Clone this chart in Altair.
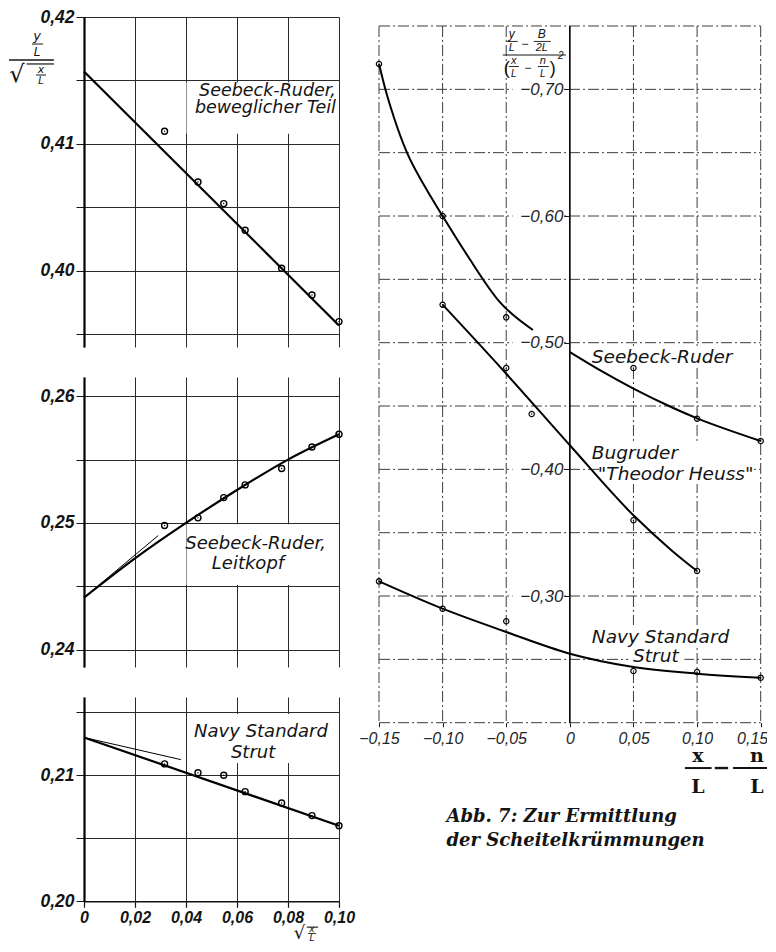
import altair as alt
import pandas as pd

# ---------------- left column: abscissa sqrt(x/L) ----------------
SQRT_XL = [0.0316, 0.0447, 0.0548, 0.0632, 0.0775, 0.0894, 0.1000]
TOP_PTS = [0.4110, 0.4070, 0.4053, 0.4032, 0.4002, 0.3981, 0.3960]
MID_PTS = [0.2498, 0.2504, 0.2520, 0.2530, 0.2543, 0.2560, 0.2570]
BOT_PTS = [0.2109, 0.2102, 0.2100, 0.2087, 0.2078, 0.2068, 0.2060]

TOP_FIT_X = [0.0, 0.10]
TOP_FIT_Y = [0.4157, 0.3957]
MID_FIT_X = [0.0, 0.02, 0.04, 0.06, 0.08, 0.10]
MID_FIT_Y = [0.2441, 0.2472, 0.2500, 0.2526, 0.2550, 0.2570]
MID_TAN_X = [0.0, 0.0291]
MID_TAN_Y = [0.2441, 0.2490]
BOT_FIT_X = [0.0, 0.10]
BOT_FIT_Y = [0.2130, 0.2060]
BOT_TAN_X = [0.0, 0.038]
BOT_TAN_Y = [0.2130, 0.21124]

LEFT_XTICKS = [0.0, 0.02, 0.04, 0.06, 0.08, 0.10]
TOP_YTICKS = [0.395, 0.40, 0.405, 0.41, 0.415, 0.42]
MID_YTICKS = [0.24, 0.245, 0.25, 0.255, 0.26]
BOT_YTICKS = [0.20, 0.205, 0.21, 0.215]

# ---------------- right panel: abscissa x/L - n/L ----------------
SEE_PX = [-0.15, -0.10, -0.05, 0.05, 0.10, 0.15]
SEE_PY = [-0.720, -0.600, -0.520, -0.480, -0.440, -0.4224]
SEE_C1X = [-0.15, -0.145, -0.138, -0.128, -0.115, -0.10, -0.08, -0.055, -0.029]
SEE_C1Y = [-0.720, -0.700, -0.677, -0.650, -0.625, -0.600, -0.568, -0.532, -0.510]
SEE_C2X = [0.0, 0.025, 0.05, 0.08, 0.10, 0.125, 0.15]
SEE_C2Y = [-0.4926, -0.4775, -0.4637, -0.449, -0.4403, -0.431, -0.4224]

BUG_PX = [-0.10, -0.05, -0.03, 0.05, 0.10]
BUG_PY = [-0.530, -0.480, -0.4437, -0.3598, -0.3197]
BUG_CX = [-0.10, -0.05, 0.0, 0.05, 0.08, 0.10]
BUG_CY = [-0.530, -0.4755, -0.419, -0.3637, -0.336, -0.3197]

NAV_PX = [-0.15, -0.10, -0.05, 0.05, 0.10, 0.15]
NAV_PY = [-0.3116, -0.2900, -0.2801, -0.2408, -0.2400, -0.2355]
NAV_CX = [-0.15, -0.10, -0.05, 0.0, 0.05, 0.10, 0.15]
NAV_CY = [-0.3116, -0.2900, -0.2716, -0.2545, -0.2440, -0.2387, -0.2355]

R_XTICKS = [-0.15, -0.10, -0.05, 0.0, 0.05, 0.10, 0.15]
R_YGRID = [-0.75, -0.70, -0.65, -0.60, -0.55, -0.50, -0.45, -0.40, -0.35, -0.30, -0.25, -0.20]
R_YLABELS = [-0.70, -0.60, -0.50, -0.40, -0.30]

SERIES = ["Seebeck-Ruder", "Bugruder", "\"Theodor Heuss\"", "Navy Standard", "Strut",
          "Seebeck-Ruder,", "beweglicher Teil", "Leitkopf"]

INK = "#141414"
GRID = "#2a2a2a"
GRIDR = "#3c3c3c"
TICK_FONT = "Liberation Sans"
LABEL_FONT = "DejaVu Sans"
SERIF = "DejaVu Serif"
COMMA = "replace(format(datum.value, '.2f'), '.', ',')"


def frame(**cols):
    return pd.DataFrame(cols)


def make_helpers(xs, ys, xax, yax):
    def X(f="x"):
        return alt.X(f + ":Q", scale=xs, axis=xax)

    def Y(f="y"):
        return alt.Y(f + ":Q", scale=ys, axis=yax)

    def text(x, y, s, align="left", size=18, font=LABEL_FONT, style="italic", weight="normal"):
        return alt.Chart(frame(x=[x], y=[y], t=[s])).mark_text(
            align=align, baseline="alphabetic", font=font, fontSize=size,
            fontStyle=style, fontWeight=weight, color=INK
        ).encode(x=X(), y=Y(), text="t:N")

    def bar(x1, x2, y, w=1.2):
        return alt.Chart(frame(x=[x1], x2=[x2], y=[y])).mark_rule(
            color=INK, strokeWidth=w).encode(x=X(), x2="x2:Q", y=Y())

    def box(x1, x2, y1, y2):
        return alt.Chart(frame(x=[x1], x2=[x2], y=[y1], y2=[y2])).mark_rect(
            color="white").encode(x=X(), x2="x2:Q", y=Y(), y2="y2:Q")

    def line(xv, yv, w=2.2, interp="monotone"):
        return alt.Chart(frame(x=xv, y=yv)).mark_line(
            color="black", strokeWidth=w, interpolate=interp).encode(x=X(), y=Y())

    def points(xv, yv, size=36, sw=1.4):
        ring = alt.Chart(frame(x=xv, y=yv)).mark_point(
            shape="circle", filled=False, size=size, strokeWidth=sw, color="black", opacity=1
        ).encode(x=X(), y=Y())
        dot = alt.Chart(frame(x=xv, y=yv)).mark_point(
            shape="circle", filled=True, size=2, color="black", opacity=1
        ).encode(x=X(), y=Y())
        return [ring, dot]

    return X, Y, text, bar, box, line, points


def left_panel(ydomain, yticks, bottom):
    xs = alt.Scale(domain=[0.0, 0.10], nice=False, zero=False)
    ys = alt.Scale(domain=ydomain, nice=False, zero=False)
    xax = alt.Axis(values=LEFT_XTICKS, title=None, grid=True, gridColor=GRID, gridWidth=1,
                   gridOpacity=1, domain=bottom, domainColor=INK, domainWidth=1.6,
                   ticks=bottom, tickColor=INK, tickSize=6, tickWidth=1.2,
                   labels=bottom, labelExpr="datum.value == 0 ? '0' : " + COMMA,
                   labelFont=TICK_FONT, labelFontSize=16, labelFontWeight="bold",
                   labelFontStyle="italic", labelColor=INK, labelPadding=2,
                   labelFlush=False, labelOverlap=False)
    yax = alt.Axis(values=yticks, title=None, grid=True, gridColor=GRID, gridWidth=1,
                   gridOpacity=1, domain=True, domainColor="black", domainWidth=2.2,
                   ticks=True, tickColor=INK, tickSize=8, tickWidth=1,
                   labelExpr="round(datum.value * 1000) % 10 == 0 ? " + COMMA + " : ''",
                   labelFont=TICK_FONT, labelFontSize=17.5, labelFontWeight="bold",
                   labelFontStyle="italic", labelColor=INK, labelPadding=2,
                   labelOverlap=False)
    return make_helpers(xs, ys, xax, yax)


# ---------------- top-left panel ----------------
X, Y, text, bar, box, line, points = left_panel([0.394, 0.42], TOP_YTICKS, False)
top_layers = [
    box(0.0402, 0.0992, 0.4108, 0.41485),
    line(TOP_FIT_X, TOP_FIT_Y),
    *points(SQRT_XL, TOP_PTS),
    text(0.0988, 0.41378, SERIES[5], align="right", size=17.5),
    text(0.0988, 0.41244, SERIES[6], align="right", size=17.5),
    # y-axis title  (y/L) / sqrt(x/L)
    text(-0.01843, 0.41819, "y", align="center", size=13),
    bar(-0.0204, -0.0161, 0.41787, 1),
    text(-0.01843, 0.41693, "L", align="center", size=12),
    bar(-0.0294, -0.0118, 0.41661, 1.5),
    text(-0.02627, 0.41488, "√", align="center", size=24, style="normal"),
    bar(-0.0225, -0.0118, 0.41630, 1.2),
    text(-0.01686, 0.41559, "x", align="center", size=11),
    bar(-0.0188, -0.0149, 0.41543, 1),
    text(-0.01686, 0.41472, "L", align="center", size=10),
]
top = alt.layer(*top_layers).properties(width=255, height=330)

# ---------------- middle-left panel ----------------
X, Y, text, bar, box, line, points = left_panel([0.238618, 0.261524], MID_YTICKS, False)
mid_layers = [
    box(0.0402, 0.0965, 0.2451, 0.2499),
    line(MID_TAN_X, MID_TAN_Y, w=1, interp="linear"),
    line(MID_FIT_X, MID_FIT_Y),
    *points(SQRT_XL, MID_PTS),
    text(0.0673, 0.24794, SERIES[5], align="center"),
    text(0.0643, 0.24636, SERIES[7], align="center"),
]
mid = alt.layer(*mid_layers).properties(width=255, height=290)

# ---------------- bottom-left panel ----------------
X, Y, text, bar, box, line, points = left_panel([0.20, 0.21621], BOT_YTICKS, True)
bot_layers = [
    box(0.0405, 0.0975, 0.21098, 0.21487),
    line(BOT_TAN_X, BOT_TAN_Y, w=1, interp="linear"),
    line(BOT_FIT_X, BOT_FIT_Y),
    *points(SQRT_XL, BOT_PTS),
    text(0.0694, 0.21304, SERIES[3], align="center"),
    text(0.0663, 0.21137, SERIES[4], align="center"),
    # x-axis title sqrt(x/L)
    text(0.0845, 0.19700, "√", align="center", size=18, style="normal"),
    bar(0.0874, 0.0918, 0.19795, 1.1),
    text(0.0894, 0.19760, "x", align="center", size=9),
    bar(0.0879, 0.0910, 0.19745, 0.9),
    text(0.0894, 0.19684, "L", align="center", size=9),
]
bot = alt.layer(*bot_layers).properties(width=255, height=204.3)

# ---------------- right panel ----------------
LAST = "datum.value > 0.14"
rxs = alt.Scale(domain=[-0.15, 0.15], nice=False, zero=False)
rys = alt.Scale(domain=[-0.7571, -0.20], nice=False, zero=False, reverse=True)
rxax = alt.Axis(values=R_XTICKS, title=None, grid=False, domain=False, ticks=True,
                tickColor=INK, tickSize=4, tickWidth=1,
                labelExpr="datum.value == 0 ? '0' : " + COMMA,
                labelFont=TICK_FONT, labelFontSize=16, labelFontStyle="italic",
                labelColor="#262626", labelPadding=4, labelFlush=False, labelOverlap=False,
                labelAlign={"condition": {"test": LAST, "value": "right"}, "value": "center"},
                labelOffset={"condition": {"test": LAST, "value": 7}, "value": 0})
ryax = alt.Axis(values=R_YLABELS, title=None, grid=False, domain=False, ticks=True,
                tickColor=INK, tickSize=6, tickWidth=1, offset=-190.85, zindex=1,
                labelExpr=COMMA, labelFont=TICK_FONT, labelFontSize=17,
                labelFontStyle="italic", labelColor="#262626", labelPadding=1,
                labelOverlap=False)
X, Y, text, bar, box, line, points = make_helpers(rxs, rys, rxax, ryax)

xv = [v for v in R_XTICKS if v != 0]
vgrid = alt.Chart(frame(x=xv, y=[min(R_YGRID)] * len(xv), y2=[max(R_YGRID)] * len(xv))).mark_rule(
    color=GRIDR, strokeWidth=1, strokeDash=[11, 3, 2, 3]).encode(x=X(), y=Y(), y2="y2:Q")
hgrid = alt.Chart(frame(y=R_YGRID, x=[min(R_XTICKS)] * len(R_YGRID),
                        x2=[max(R_XTICKS)] * len(R_YGRID))).mark_rule(
    color=GRIDR, strokeWidth=1, strokeDash=[11, 3, 2, 3]).encode(x=X(), x2="x2:Q", y=Y())
zero_axis = alt.Chart(frame(x=[0.0], y=[min(R_YGRID)], y2=[max(R_YGRID)])).mark_rule(
    color="black", strokeWidth=1.6).encode(x=X(), y=Y(), y2="y2:Q")
label_boxes = alt.Chart(frame(x=[-0.045] * len(R_YLABELS), x2=[-0.0055] * len(R_YLABELS),
                              y=[v - 0.0065 for v in R_YLABELS],
                              y2=[v + 0.0065 for v in R_YLABELS])).mark_rect(
    color="white").encode(x=X(), x2="x2:Q", y=Y(), y2="y2:Q")

SZ = 11
right_layers = [
    vgrid, hgrid, zero_axis, label_boxes,
    box(0.015, 0.140, -0.4974, -0.4800),
    box(0.024, 0.142, -0.4216, -0.3884),
    box(0.016, 0.130, -0.2771, -0.2590),
    box(0.046, 0.090, -0.2590, -0.2463),
    line(SEE_C1X, SEE_C1Y, w=2),
    line(SEE_C2X, SEE_C2Y, w=2),
    line(BUG_CX, BUG_CY, w=2),
    line(NAV_CX, NAV_CY, w=2),
    *points(SEE_PX + BUG_PX + NAV_PX, SEE_PY + BUG_PY + NAV_PY, size=28, sw=1.2),
    text(0.0173, -0.4840, SERIES[0], size=18.5),
    text(0.0173, -0.4082, SERIES[1], size=18.5),
    text(0.0220, -0.3916, SERIES[2], size=18.5),
    text(0.0173, -0.2629, SERIES[3], size=18.5),
    text(0.0676, -0.2479, SERIES[4], align="center", size=18.5),
    # y-axis title:  (y/L - B/2L) / (x/L - n/L)^2
    text(-0.0456, -0.7405, "y", align="center", size=12, font=TICK_FONT),
    bar(-0.0495, -0.0409, -0.7378, 0.9),
    text(-0.0456, -0.7303, "L", align="center", size=SZ, font=TICK_FONT),
    text(-0.0354, -0.7330, "−", align="center", size=12, font=TICK_FONT),
    text(-0.0220, -0.7405, "B", align="center", size=12, font=TICK_FONT),
    bar(-0.0283, -0.0149, -0.7378, 0.9),
    text(-0.0220, -0.7303, "2L", align="center", size=SZ, font=TICK_FONT),
    bar(-0.0527, -0.0031, -0.7271, 1.1),
    text(-0.0495, -0.7121, "(", align="center", size=18, font=TICK_FONT, style="normal"),
    text(-0.0440, -0.7200, "x", align="center", size=SZ, font=TICK_FONT),
    bar(-0.0480, -0.0401, -0.7180, 0.9),
    text(-0.0440, -0.7097, "L", align="center", size=10, font=TICK_FONT),
    text(-0.0330, -0.7140, "−", align="center", size=12, font=TICK_FONT),
    text(-0.0212, -0.7200, "n", align="center", size=SZ, font=TICK_FONT),
    bar(-0.0252, -0.0165, -0.7180, 0.9),
    text(-0.0212, -0.7097, "L", align="center", size=10, font=TICK_FONT),
    text(-0.0134, -0.7121, ")", align="center", size=18, font=TICK_FONT, style="normal"),
    text(-0.0072, -0.7239, "2", align="center", size=10, font=TICK_FONT),
    # x-axis title  x/L - n/L
    text(0.1006, -0.1690, "x", align="center", size=19, font=SERIF, style="normal", weight="bold"),
    text(0.1006, -0.1445, "L", align="center", size=19, font=SERIF, style="normal", weight="bold"),
    bar(0.0904, 0.1114, -0.1642, 2),
    bar(0.1139, 0.1244, -0.1642, 2.4),
    bar(0.1282, 0.1555, -0.1642, 2),
    text(0.1470, -0.1690, "n", align="center", size=19, font=SERIF, style="normal", weight="bold"),
    text(0.1470, -0.1445, "L", align="center", size=19, font=SERIF, style="normal", weight="bold"),
    # caption
    text(-0.0970, -0.1216, "Abb. 7: Zur Ermittlung", size=18, font=SERIF, weight="bold"),
    text(-0.0970, -0.1026, "der Scheitelkrümmungen", size=18, font=SERIF, weight="bold"),
]
right = alt.layer(*right_layers).properties(width=381.7, height=705.7)

left_col = alt.vconcat(top, mid, bot, spacing=30, bounds="flush")

chart = alt.hconcat(left_col, right, spacing=3).properties(
    padding={"left": 0, "top": 0, "right": -2, "bottom": 0},
    background="white",
).configure_view(strokeWidth=0)

chart.save("out.html", embed_options={"renderer": "svg", "actions": False})
